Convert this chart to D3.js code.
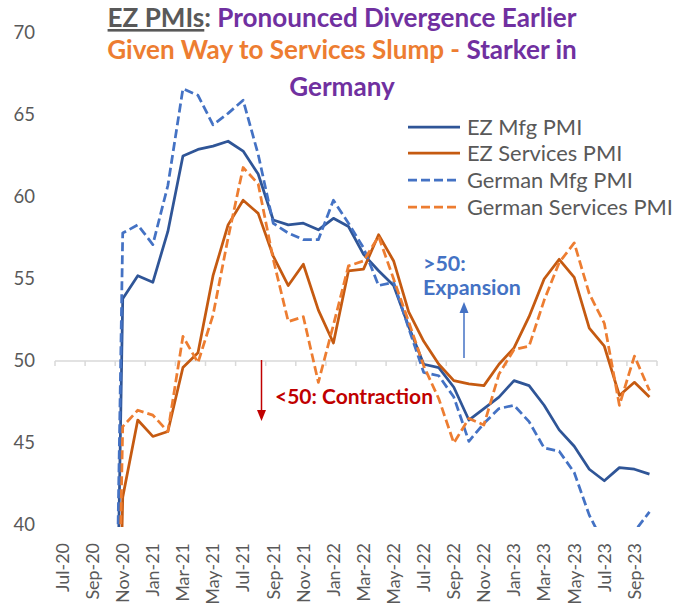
<!DOCTYPE html>
<html><head><meta charset="utf-8">
<script src="https://cdn.jsdelivr.net/npm/d3@7/dist/d3.min.js"></script>
<style>body{margin:0;background:#fff} svg{display:block} text{font-family:Lato,"Open Sans",sans-serif}</style>
</head><body><svg id="c" width="677" height="610"></svg>
<script>
const months = ["Jul-20","Aug-20","Sep-20","Oct-20","Nov-20","Dec-20",
 "Jan-21","Feb-21","Mar-21","Apr-21","May-21","Jun-21","Jul-21","Aug-21","Sep-21","Oct-21","Nov-21","Dec-21",
 "Jan-22","Feb-22","Mar-22","Apr-22","May-22","Jun-22","Jul-22","Aug-22","Sep-22","Oct-22","Nov-22","Dec-22",
 "Jan-23","Feb-23","Mar-23","Apr-23","May-23","Jun-23","Jul-23","Aug-23","Sep-23","Oct-23"];
const tickLabels = months.filter((d,i)=>i%2===0);
const yTicks = [40,45,50,55,60,65,70];
const seriesNames = ["EZ Mfg PMI","EZ Services PMI","German Mfg PMI","German Services PMI"];
const ezMfg = [0,0,0,0,53.8,55.2,54.8,57.9,62.5,62.9,63.1,63.4,62.8,61.4,58.6,58.3,58.4,58.0,
 58.7,58.2,56.5,55.5,54.6,52.1,49.8,49.6,48.4,46.4,47.1,47.8,48.8,48.5,47.3,45.8,44.8,43.4,42.7,43.5,43.4,43.1];
const ezServices = [0,0,0,0,41.7,46.4,45.4,45.7,49.6,50.5,55.2,58.3,59.8,59.0,56.4,54.6,55.9,53.1,
 51.1,55.5,55.6,57.7,56.1,53.0,51.2,49.8,48.8,48.6,48.5,49.8,50.8,52.7,55.0,56.2,55.1,52.0,50.9,47.9,48.7,47.8];
const deMfg = [0,0,0,0,57.8,58.3,57.1,60.7,66.6,66.2,64.4,65.1,65.9,62.6,58.4,57.8,57.4,57.4,
 59.8,58.4,56.9,54.6,54.8,52.0,49.3,49.1,47.8,45.1,46.2,47.1,47.3,46.3,44.7,44.5,43.2,40.6,38.8,39.1,39.6,40.8];
const deServices = [0,0,0,0,46.0,47.0,46.7,45.7,51.5,49.9,52.8,57.5,61.8,60.8,56.2,52.4,52.7,48.7,
 52.2,55.8,56.1,57.6,55.0,52.4,49.7,47.7,45.0,46.5,46.1,49.2,50.7,50.9,53.7,56.0,57.2,54.1,52.3,47.3,50.3,48.2];

const svg = d3.select("#c");
const L=55, R=657, T=33, B=525;
const x = d3.scaleBand().domain(months).range([L,R]).padding(0);
const y = d3.scaleLinear().domain([40,70]).range([B,T]);
const cx = m => x(m) + x.bandwidth()/2;
const gray = "#595959";

function fit(sel, target){
  const w = sel.node().getComputedTextLength();
  const fs = parseFloat(sel.attr("font-size"));
  sel.attr("font-size", fs*target/w);
  return fs*target/w;
}

// Y labels
const yl = svg.append("g");
yTicks.forEach(v=>{
  yl.append("text").attr("x",35).attr("y",y(v)).attr("dy","0.35em").attr("text-anchor","end")
    .attr("fill",gray).attr("font-size",18).text(v);
});
const yfs = fit(yl.select("text"), 21.5);
yl.selectAll("text").attr("font-size", yfs);

// axis line at 50
const y50 = y(50);
svg.append("line").attr("x1",L).attr("x2",R).attr("y1",y50).attr("y2",y50)
  .attr("stroke","#D9D9D9").attr("stroke-width",1.5);
const tickPos = tickLabels.map(m=>x(m)).concat([R]);
svg.append("g").selectAll("line").data(tickPos).join("line")
  .attr("x1",d=>d).attr("x2",d=>d).attr("y1",y50).attr("y2",y50+5)
  .attr("stroke","#D9D9D9").attr("stroke-width",1.5);

// X labels
const xl = svg.append("g");
tickLabels.forEach(m=>{
  xl.append("text").attr("transform",`translate(${cx(m)},543) rotate(-90)`)
    .attr("dy","0.35em").attr("text-anchor","end").attr("fill",gray).attr("font-size",18).text(m);
});
const xfs = fit(xl.selectAll("text").filter((d,i)=>i===2), 60);
xl.selectAll("text").attr("font-size", xfs);

// lines
svg.append("clipPath").attr("id","clip").append("rect").attr("x",L).attr("y",10).attr("width",R-L).attr("height",527-10);
const series = [
  {name:seriesNames[0], vals:ezMfg, color:"#2F5597", dash:null},
  {name:seriesNames[1], vals:ezServices, color:"#C55A11", dash:null},
  {name:seriesNames[2], vals:deMfg, color:"#4472C4", dash:"9,4"},
  {name:seriesNames[3], vals:deServices, color:"#ED7D31", dash:"9,4"}
];
const line = d3.line().x((d,i)=>cx(months[i])).y(d=>y(d));
const lg = svg.append("g").attr("clip-path","url(#clip)");
series.forEach(s=>{
  lg.append("path").datum(s.vals).attr("d",line).attr("fill","none")
    .attr("stroke",s.color).attr("stroke-width",2.75).attr("stroke-linejoin","round")
    .attr("stroke-dasharray",s.dash);
});

// legend
const leg = svg.append("g");
const legY = [127,153,180,207];
series.forEach((s,i)=>{
  leg.append("line").attr("x1",408).attr("x2",460).attr("y1",legY[i]).attr("y2",legY[i])
    .attr("stroke",s.color).attr("stroke-width",2.75).attr("stroke-dasharray",s.dash);
  leg.append("text").attr("x",467).attr("y",legY[i]).attr("dy","0.35em").attr("fill",gray)
    .attr("font-size",18).text(s.name);
});
const lfs = fit(leg.selectAll("text").filter((d,i)=>i===3), 206);
leg.selectAll("text").attr("font-size", lfs);

// title
const purple="#7030A0", orange="#ED7D31";
const t1 = svg.append("text").attr("x",342).attr("y",27).attr("text-anchor","middle").attr("font-weight","bold").attr("font-size",20);
t1.append("tspan").attr("fill",gray).attr("text-decoration","underline").text("EZ PMIs");
t1.append("tspan").attr("fill",gray).text(": ");
t1.append("tspan").attr("fill",purple).text("Pronounced Divergence Earlier");
const tfs = fit(t1, 469);
const t2 = svg.append("text").attr("x",342).attr("y",59).attr("text-anchor","middle").attr("font-weight","bold").attr("font-size",tfs);
t2.append("tspan").attr("fill",orange).text("Given Way to Services Slump - ");
t2.append("tspan").attr("fill",purple).text("Starker in");
svg.append("text").attr("x",342).attr("y",96).attr("text-anchor","middle").attr("font-weight","bold")
  .attr("font-size",tfs).attr("fill",purple).text("Germany");

// annotations
const blue="#4472C4", red="#C00000";
const e1 = svg.append("text").attr("x",423).attr("y",271).attr("font-weight","bold").attr("fill",blue).attr("font-size",18).text(">50:");
const e2 = svg.append("text").attr("x",423).attr("y",295).attr("font-weight","bold").attr("fill",blue).attr("font-size",18).text("Expansion");
const efs = fit(e2, 98); e1.attr("font-size", efs);
svg.append("line").attr("x1",464).attr("x2",464).attr("y1",358).attr("y2",310).attr("stroke",blue).attr("stroke-width",1.5);
svg.append("path").attr("d","M464,302 L459.5,313 L468.5,313 Z").attr("fill",blue);
const c1 = svg.append("text").attr("x",275).attr("y",404).attr("font-weight","bold").attr("fill",red).attr("font-size",18).text("<50: Contraction");
fit(c1, 158);
svg.append("line").attr("x1",261.5).attr("x2",261.5).attr("y1",360).attr("y2",412).attr("stroke",red).attr("stroke-width",1.5);
svg.append("path").attr("d","M261.5,421 L257,410 L266,410 Z").attr("fill",red);
</script></body></html>
